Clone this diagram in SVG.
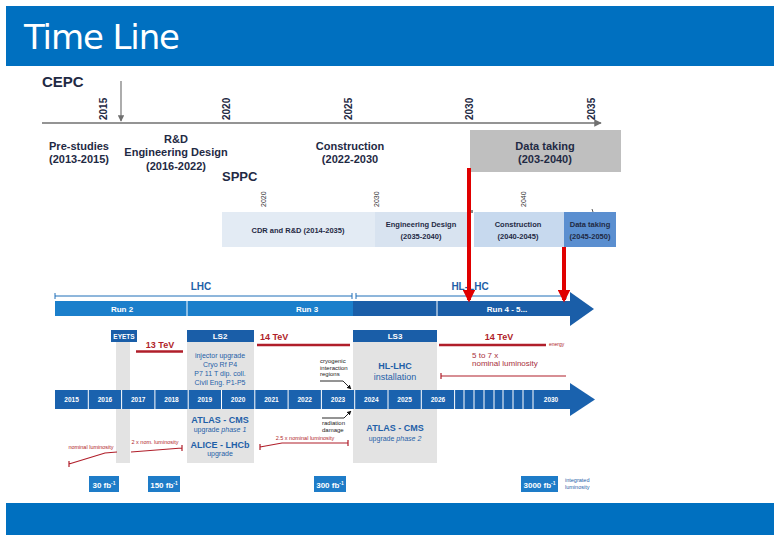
<svg xmlns="http://www.w3.org/2000/svg" width="780" height="540" viewBox="0 0 780 540">
<defs>
<style>
text{font-family:"Liberation Sans",Arial,sans-serif}
.navy{fill:#1F2A44;font-weight:bold}
.yr{fill:#1F2A44;font-weight:bold;font-size:10px}
.yrs{fill:#333;font-size:7px}
.blue{fill:#1F5FA8}
.wt{fill:#fff;font-weight:bold}
.red{fill:#B01E2A}
.redl{stroke:#B01E2A;stroke-width:2.5;fill:none}
.redt{stroke:#B01E2A;stroke-width:1.2;fill:none}
.gcol{fill:#E3E3E3}
.sep{stroke:#fff;stroke-width:1}
.sp{fill:#1F2A44;font-weight:bold}
</style>
<marker id="ga" viewBox="0 0 10 10" refX="9" refY="5" markerWidth="5" markerHeight="5" orient="auto"><path d="M0,0L10,5L0,10z" fill="#707070"/></marker>
<marker id="ba" viewBox="0 0 10 10" refX="9" refY="5" markerWidth="5" markerHeight="5" orient="auto"><path d="M0,0L10,5L0,10z" fill="#111"/></marker>
<marker id="ra" viewBox="0 0 10 10" refX="8" refY="5" markerWidth="3.2" markerHeight="3.2" orient="auto"><path d="M0,0L10,5L0,10z" fill="#E00000"/></marker>
</defs>
<rect width="780" height="540" fill="#fff"/>
<g id="header">
<rect x="6" y="6" width="768" height="60" fill="#0070C0"/>
<text x="24" y="49" font-size="34" fill="#fff" style="font-family:'DejaVu Sans','Liberation Sans',sans-serif" textLength="156">Time Line</text>
</g>
<rect id="footer" x="6" y="503" width="768" height="32" fill="#0070C0"/>

<g id="cepc">
<text x="42" y="87" font-size="15" class="navy">CEPC</text>
<line x1="42" y1="123" x2="601" y2="123" stroke="#707070" stroke-width="1.5" marker-end="url(#ga)"/>
<line x1="121" y1="81" x2="121" y2="121" stroke="#808080" stroke-width="1.3" marker-end="url(#ga)"/>
<text class="yr" transform="translate(107,120) rotate(-90)">2015</text>
<text class="yr" transform="translate(230,120) rotate(-90)">2020</text>
<text class="yr" transform="translate(352,120) rotate(-90)">2025</text>
<text class="yr" transform="translate(473,120) rotate(-90)">2030</text>
<text class="yr" transform="translate(595,120) rotate(-90)">2035</text>
</g>
<g id="cepc-prestudies" font-size="11" text-anchor="middle">
<text x="79" y="150" class="navy">Pre-studies</text>
<text x="79" y="163" class="navy">(2013-2015)</text>
</g>
<g id="cepc-rd" font-size="11" text-anchor="middle">
<text x="176" y="143" class="navy">R&amp;D</text>
<text x="176" y="156" class="navy">Engineering Design</text>
<text x="176" y="170" class="navy">(2016-2022)</text>
</g>
<g id="cepc-construction" font-size="11" text-anchor="middle">
<text x="350" y="150" class="navy">Construction</text>
<text x="350" y="163" class="navy">(2022-2030</text>
</g>
<g id="cepc-data" font-size="11" text-anchor="middle">
<rect x="470" y="130" width="151" height="42" fill="#BFBFBF"/>
<text x="545" y="150" class="navy">Data taking</text>
<text x="545" y="163" class="navy">(203-2040)</text>
</g>

<g id="sppc">
<text x="222" y="181" font-size="13" class="navy">SPPC</text>
<text class="yrs" transform="translate(266,207) rotate(-90)">2020</text>
<text class="yrs" transform="translate(379,207) rotate(-90)">2030</text>
<text class="yrs" transform="translate(526,207) rotate(-90)">2040</text>
<line x1="472" y1="210" x2="472" y2="213" stroke="#111"/>
<line x1="592" y1="209" x2="593" y2="212" stroke="#555"/>
</g>
<g id="sppc-cdr" font-size="7.5" text-anchor="middle">
<rect x="222" y="212" width="153" height="35" fill="#E3EBF4"/>
<text x="298" y="233" class="sp">CDR and R&amp;D (2014-2035)</text>
</g>
<g id="sppc-eng" font-size="7.5" text-anchor="middle">
<rect x="375" y="212" width="95" height="35" fill="#D8E3F0"/>
<text x="421" y="227" class="sp">Engineering Design</text>
<text x="421" y="239" class="sp">(2035-2040)</text>
</g>
<g id="sppc-con" font-size="7.5" text-anchor="middle">
<rect x="474" y="212" width="90" height="35" fill="#C7D9EE"/>
<text x="518" y="227" class="sp">Construction</text>
<text x="518" y="239" class="sp">(2040-2045)</text>
</g>
<g id="sppc-data" font-size="7.5" text-anchor="middle">
<rect x="564" y="212" width="52" height="35" fill="#5B8FD0"/>
<text x="590" y="227" class="sp">Data taking</text>
<text x="590" y="239" class="sp">(2045-2050)</text>
</g>

<g id="lhc-header" font-size="10" text-anchor="middle">
<text x="201" y="290" fill="#1F5FA8" font-weight="bold">LHC</text>
<text x="470" y="290" fill="#1F5FA8" font-weight="bold">HL-LHC</text>
<path d="M55,293V299M55,296H352M352,293V299M356,293V299M356,296H566M566,293V299" stroke="#1F6FB8" stroke-width="1" fill="none"/>
</g>
<g id="run-bar" font-size="8" text-anchor="middle">
<rect x="55" y="301" width="298" height="15" fill="#1B7FCB"/>
<rect x="353" y="301" width="218" height="15" fill="#1A5EA8"/>
<path d="M570,292L594,309L570,326z" fill="#1A5EA8"/>
<line x1="187" y1="301" x2="187" y2="316" class="sep"/>
<line x1="437" y1="301" x2="437" y2="316" class="sep"/>
<text x="122" y="312" class="wt">Run 2</text>
<text x="307" y="312" class="wt">Run 3</text>
<text x="507" y="312" class="wt">Run 4 - 5...</text>
</g>

<g id="shutdown-columns">
<rect x="116" y="342" width="14" height="121" class="gcol"/>
<rect x="187" y="342" width="67" height="121" class="gcol"/>
<rect x="353" y="342" width="84" height="121" class="gcol"/>
</g>
<g id="eyets" font-size="6.5" text-anchor="middle">
<rect x="111" y="330" width="26" height="12" fill="#1A5EA8"/>
<text x="124" y="338.5" class="wt">EYETS</text>
</g>
<g id="ls2" font-size="8" text-anchor="middle">
<rect x="187" y="330" width="67" height="12" fill="#1A5EA8"/>
<text x="220" y="339" class="wt">LS2</text>
<g font-size="7" class="blue">
<text x="220" y="358">injector upgrade</text>
<text x="220" y="367">Cryo Rf P4</text>
<text x="220" y="376">P7 11 T dip. coll.</text>
<text x="220" y="385">Civil Eng. P1-P5</text>
</g>
<g class="blue">
<text x="220" y="423" font-size="9" font-weight="bold">ATLAS - CMS</text>
<text x="220" y="432" font-size="7">upgrade <tspan font-style="italic">phase 1</tspan></text>
<text x="220" y="448" font-size="9" font-weight="bold">ALICE - LHCb</text>
<text x="220" y="456" font-size="7">upgrade</text>
</g>
</g>
<g id="ls3" font-size="8" text-anchor="middle">
<rect x="353" y="330" width="84" height="12" fill="#1A5EA8"/>
<text x="395" y="339" class="wt">LS3</text>
<text x="395" y="369" font-size="9" class="blue" font-weight="bold">HL-LHC</text>
<text x="395" y="380" font-size="9" class="blue">installation</text>
<text x="395" y="431" font-size="9" font-weight="bold" class="blue">ATLAS - CMS</text>
<text x="395" y="441" font-size="7" class="blue">upgrade <tspan font-style="italic">phase 2</tspan></text>
</g>

<g id="energy">
<text x="160" y="348" font-size="9" text-anchor="middle" class="red" font-weight="bold">13 TeV</text>
<line x1="136" y1="351.5" x2="183" y2="351.5" class="redl"/>
<text x="260" y="340" font-size="9" class="red" font-weight="bold">14 TeV</text>
<line x1="257" y1="345" x2="350" y2="345" class="redl"/>
<text x="499" y="340" font-size="9" text-anchor="middle" class="red" font-weight="bold">14 TeV</text>
<line x1="439" y1="345" x2="546" y2="345" class="redl"/>
<text x="549" y="346" font-size="5" class="red">energy</text>
</g>
<g id="luminosity">
<text x="472" y="358" font-size="8" fill="#A8303C">5 to 7 x</text>
<text x="472" y="366" font-size="8" fill="#A8303C">nominal luminosity</text>
<path d="M441,373V379M441,376H566" class="redt"/>
<text x="91" y="449" font-size="5.5" text-anchor="middle" class="red">nominal luminosity</text>
<path d="M69,461V467M69,464L105,453L117,452" class="redt"/>
<text x="155" y="444" font-size="5.5" text-anchor="middle" class="red">2 x nom. luminosity</text>
<path d="M131,452L182,448M182,445V451" class="redt"/>
<text x="305" y="440" font-size="5.5" text-anchor="middle" class="red">2.5 x nominal luminosity</text>
<path d="M260,444V450M260,447L282,443H348M348,440V446" class="redt"/>
</g>

<g id="notes" font-size="6" fill="#222">
<text x="320" y="363">cryogenic</text>
<text x="320" y="369.5">interaction</text>
<text x="320" y="376">regions</text>
<text x="322" y="425">radiation</text>
<text x="322" y="432">damage</text>
</g>

<g id="year-bar" font-size="6.5" text-anchor="middle">
<rect x="55" y="390" width="516" height="19" fill="#1A62AE"/>
<path d="M570,383L595,399.5L570,416z" fill="#1A62AE"/>
<g class="sep">
<line x1="88.3" y1="390" x2="88.3" y2="409"/><line x1="121.6" y1="390" x2="121.6" y2="409"/>
<line x1="154.9" y1="390" x2="154.9" y2="409"/><line x1="188.2" y1="390" x2="188.2" y2="409"/>
<line x1="221.5" y1="390" x2="221.5" y2="409"/><line x1="254.8" y1="390" x2="254.8" y2="409"/>
<line x1="288.1" y1="390" x2="288.1" y2="409"/><line x1="321.4" y1="390" x2="321.4" y2="409"/>
<line x1="354.7" y1="390" x2="354.7" y2="409"/><line x1="388" y1="390" x2="388" y2="409"/>
<line x1="421.3" y1="390" x2="421.3" y2="409"/><line x1="454.6" y1="390" x2="454.6" y2="409"/>
<line x1="464" y1="390" x2="464" y2="409"/><line x1="474" y1="390" x2="474" y2="409"/>
<line x1="484" y1="390" x2="484" y2="409"/><line x1="494" y1="390" x2="494" y2="409"/>
<line x1="503" y1="390" x2="503" y2="409"/><line x1="513" y1="390" x2="513" y2="409"/>
<line x1="523" y1="390" x2="523" y2="409"/><line x1="533" y1="390" x2="533" y2="409"/>
</g>
<g fill="#fff" font-weight="bold">
<text x="71.6" y="402">2015</text><text x="104.9" y="402">2016</text><text x="138.2" y="402">2017</text>
<text x="171.5" y="402">2018</text><text x="204.8" y="402">2019</text><text x="238.1" y="402">2020</text>
<text x="271.4" y="402">2021</text><text x="304.7" y="402">2022</text><text x="338" y="402">2023</text>
<text x="371.3" y="402">2024</text><text x="404.6" y="402">2025</text><text x="437.9" y="402">2026</text>
<text x="551" y="402">2030</text>
</g>
</g>

<g id="lumi-boxes" font-size="8" font-weight="bold" fill="#fff" text-anchor="middle">
<rect x="89" y="476" width="30" height="16" fill="#1E7CC8"/>
<text x="104" y="487.5">30 fb<tspan font-size="5" dy="-3">-1</tspan></text>
<rect x="148" y="476" width="32" height="16" fill="#1E7CC8"/>
<text x="164" y="487.5">150 fb<tspan font-size="5" dy="-3">-1</tspan></text>
<rect x="314" y="476" width="32" height="16" fill="#1E7CC8"/>
<text x="330" y="487.5">300 fb<tspan font-size="5" dy="-3">-1</tspan></text>
<rect x="521" y="476" width="37" height="16" fill="#1E7CC8"/>
<text x="539.5" y="487.5">3000 fb<tspan font-size="5" dy="-3">-1</tspan></text>
</g>
<g id="lumi-label" font-size="5.5" fill="#1F5FA8">
<text x="565" y="482">integrated</text>
<text x="565" y="488.5">luminosity</text>
</g>

<g id="connectors">
<path d="M320,381H343L351,389" stroke="#111" stroke-width="0.9" fill="none" marker-end="url(#ba)"/>
<path d="M322,418H344L351,411" stroke="#111" stroke-width="0.9" fill="none" marker-end="url(#ba)"/>
<line x1="469" y1="168" x2="469" y2="300" stroke="#E00000" stroke-width="4" marker-end="url(#ra)"/>
<line x1="564" y1="247" x2="564" y2="300" stroke="#E00000" stroke-width="4" marker-end="url(#ra)"/>
</g>
</svg>
